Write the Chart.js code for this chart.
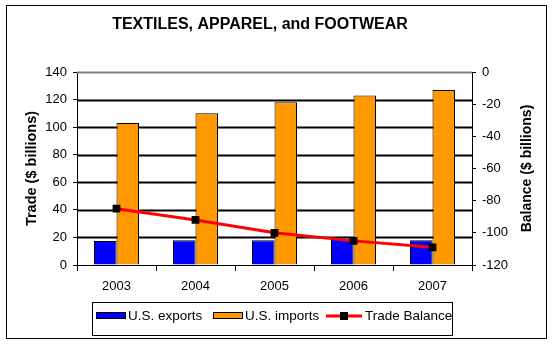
<!DOCTYPE html>
<html>
<head>
<meta charset="utf-8">
<script src="https://cdn.jsdelivr.net/npm/chart.js@4.4.0/dist/chart.umd.min.js"></script>
<style>
  html, body { margin: 0; padding: 0; background: #fff; }
  #wrap { width: 554px; height: 345px; position: relative; }
</style>
</head>
<body>
<div id="wrap"><canvas id="tradeChart"></canvas></div>
<script>
// Chart data
const years = ['2003', '2004', '2005', '2006', '2007'];
const usExports = [17.5, 18, 18, 19, 18];
const usImports = [103, 110, 118, 123, 127];
const tradeBalance = [-85, -92, -100, -105, -109];
const tradeTicks = [0, 20, 40, 60, 80, 100, 120, 140];
const balanceTicks = [-120, -100, -80, -60, -40, -20, 0];
const chartTitle = 'TEXTILES, APPAREL, and FOOTWEAR';
const leftTitle = 'Trade ($ billions)';
const rightTitle = 'Balance ($ billions)';

const FONT = 'Liberation Sans, Arial, sans-serif';

// Horizontal gridlines from the left scale (top one is the grey plot border)
const gridPlugin = {
    id: 'hgrid',
    beforeDatasetsDraw(chart) {
        const ctx = chart.ctx;
        const ys = chart.scales.y;
        const { left, right } = chart.chartArea;
        ctx.save();
        ctx.lineWidth = 2;
        ys.ticks.forEach((t) => {
            if (t.value === ys.min) return;
            const py = Math.round(ys.getPixelForValue(t.value)) + 0.5;
            ctx.strokeStyle = t.value === ys.max ? '#808080' : '#000';
            ctx.beginPath();
            ctx.moveTo(left, py);
            ctx.lineTo(right, py);
            ctx.stroke();
        });
        ctx.restore();
    }
};

// Border, titles and boxed legend
const framePlugin = {
    id: 'frame',
    afterDraw(chart) {
        const ctx = chart.ctx;
        const ca = chart.chartArea;
        const midY = (ca.top + ca.bottom) / 2;
        ctx.save();
        ctx.strokeStyle = '#000';
        ctx.lineWidth = 1;
        ctx.strokeRect(6.5, 5.5, 540, 333);

        ctx.fillStyle = '#000';
        ctx.textAlign = 'center';
        ctx.textBaseline = 'middle';
        ctx.font = 'bold 16px ' + FONT;
        ctx.fillText(chartTitle, 260, 25);

        // axis titles, both read bottom to top
        ctx.font = 'bold 14.5px ' + FONT;
        ctx.save();
        ctx.translate(32, midY);
        ctx.rotate(-Math.PI / 2);
        ctx.fillText(leftTitle, 0, 0);
        ctx.restore();
        ctx.font = 'bold 14px ' + FONT;
        ctx.save();
        ctx.translate(527, midY);
        ctx.rotate(-Math.PI / 2);
        ctx.fillText(rightTitle, 0, 0);
        ctx.restore();

        // legend box
        ctx.textAlign = 'left';
        ctx.strokeRect(92.5, 302.5, 360, 33);
        ctx.font = '13.5px ' + FONT;
        const cy = 316;
        const starts = [96, 213, 326];
        chart.data.datasets.forEach((d, i) => {
            const x = starts[i];
            if (d.type === 'line') {
                ctx.strokeStyle = d.borderColor;
                ctx.lineWidth = 3;
                ctx.beginPath();
                ctx.moveTo(x, cy);
                ctx.lineTo(x + 36, cy);
                ctx.stroke();
                ctx.fillStyle = '#000';
                ctx.fillRect(x + 14, cy - 4, 8, 8);
                ctx.fillText(d.label, x + 39, cy);
            } else {
                ctx.fillStyle = d.backgroundColor;
                ctx.fillRect(x, cy - 3, 30, 6);
                ctx.strokeStyle = '#000';
                ctx.lineWidth = 1;
                ctx.strokeRect(x + 0.5, cy - 3.5, 29, 6);
                ctx.fillStyle = '#000';
                ctx.fillText(d.label, x + 32, cy);
            }
        });
        ctx.restore();
    }
};

const ctx = document.getElementById('tradeChart').getContext('2d');
new Chart(ctx, {
    data: {
        labels: years,
        datasets: [
            {
                type: 'bar',
                label: 'U.S. exports',
                data: usExports,
                backgroundColor: '#0000FF',
                borderColor: '#000',
                borderWidth: 1,
                yAxisID: 'y',
                order: 2,
            },
            {
                type: 'bar',
                label: 'U.S. imports',
                data: usImports,
                backgroundColor: '#FF9900',
                borderColor: '#000',
                borderWidth: 1,
                yAxisID: 'y',
                order: 2,
            },
            {
                type: 'line',
                label: 'Trade Balance',
                data: tradeBalance,
                borderColor: '#FF0000',
                borderWidth: 3,
                tension: 0,
                fill: false,
                pointStyle: 'rect',
                pointRadius: 5.5,
                pointBackgroundColor: '#000',
                pointBorderColor: '#000',
                pointBorderWidth: 0,
                yAxisID: 'y1',
                order: 1,
            },
        ],
    },
    options: {
        responsive: true,
        maintainAspectRatio: false,
        animation: false,
        datasets: {
            bar: { categoryPercentage: 0.57, barPercentage: 1 },
        },
        layout: { padding: { left: 0, right: 0, top: 72, bottom: 50 } },
        plugins: {
            legend: { display: false },
            tooltip: { enabled: false },
            title: { display: false },
        },
        scales: {
            x: {
                offset: true,
                grid: {
                    offset: true,
                    drawOnChartArea: false,
                    tickLength: 6,
                    color: '#000',
                },
                border: { color: '#000' },
                ticks: {
                    color: '#000',
                    padding: 8,
                    maxRotation: 0,
                    font: { family: FONT, size: 13 },
                },
                afterFit: (s) => { s.height = 30; },
            },
            y: {
                position: 'left',
                min: tradeTicks[0],
                max: tradeTicks[tradeTicks.length - 1],
                afterBuildTicks: (s) => { s.ticks = tradeTicks.map(v => ({ value: v })); },
                grid: {
                    drawOnChartArea: false,
                    color: '#000',
                    tickLength: 4,
                },
                border: { color: '#000' },
                ticks: {
                    color: '#000',
                    padding: 6,
                    font: { family: FONT, size: 13 },
                },
                afterFit: (s) => { s.width = 77; },
            },
            y1: {
                position: 'right',
                min: balanceTicks[0],
                max: balanceTicks[balanceTicks.length - 1],
                afterBuildTicks: (s) => { s.ticks = balanceTicks.map(v => ({ value: v })); },
                grid: {
                    drawOnChartArea: false,
                    color: '#000',
                    tickLength: 4,
                },
                border: { color: '#000' },
                ticks: {
                    color: '#000',
                    padding: 6,
                    font: { family: FONT, size: 13 },
                },
                afterFit: (s) => { s.width = 82; },
            },
        },
    },
    plugins: [gridPlugin, framePlugin],
});
</script>
</body>
</html>
